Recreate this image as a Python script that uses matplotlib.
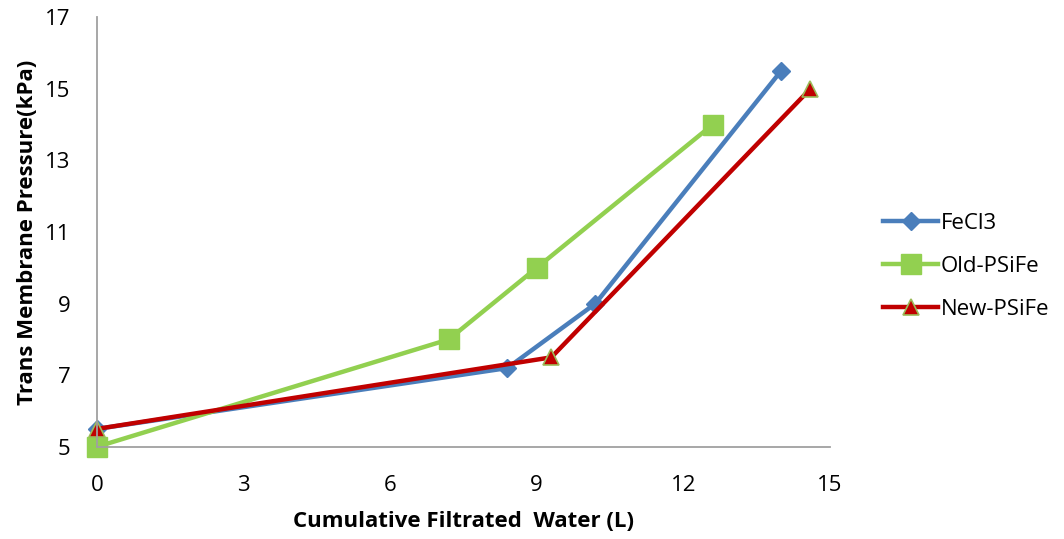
import matplotlib
matplotlib.use("Agg")
import matplotlib.pyplot as plt

plt.rcParams['font.family'] = ['Open Sans', 'DejaVu Sans']

# data
fecl3_x = [0, 8.4, 10.2, 14.0]
fecl3_y = [5.5, 7.2, 9.0, 15.5]
old_x = [0, 7.2, 9.0, 12.6]
old_y = [5.0, 8.0, 10.0, 14.0]
new_x = [0, 9.3, 14.6]
new_y = [5.5, 7.5, 15.0]
x_ticks = [0, 3, 6, 9, 12, 15]
y_ticks = [5, 7, 9, 11, 13, 15, 17]

fig = plt.figure(figsize=(10.64, 5.39), dpi=100)
ax = fig.add_axes([0.091, 0.171, 0.689, 0.797])

ax.plot(fecl3_x, fecl3_y, color="#4a7ebb", lw=3.2, marker="D", ms=9,
        mfc="#4a7ebb", mec="#4a7ebb", label="FeCl3", clip_on=False)
ax.plot(old_x, old_y, color="#92d050", lw=3.2, marker="s", ms=14,
        mfc="#92d050", mec="#92d050", label="Old-PSiFe", clip_on=False)
ax.plot(new_x, new_y, color="#c00000", lw=3.2, marker="^", ms=12,
        mfc="#c00000", mec="#9bbb59", mew=1.2, label="New-PSiFe", clip_on=False)

ax.set_xlim(0, 15)
ax.set_ylim(5, 17)
ax.set_xticks(x_ticks)
ax.set_yticks(y_ticks)
ax.tick_params(axis="x", length=0, labelsize=16, pad=20)
ax.tick_params(axis="y", length=0, labelsize=16, pad=19)
for s in ["top", "right"]:
    ax.spines[s].set_visible(False)
for s in ["left", "bottom"]:
    ax.spines[s].set_color("#a0a0a0")
    ax.spines[s].set_linewidth(1.3)

ax.set_xlabel("Cumulative Filtrated  Water (L)", fontsize=16, fontweight="bold", labelpad=11)
ax.set_ylabel("Trans Membrane Pressure(kPa)", fontsize=16, fontweight="bold", labelpad=5)

ax.legend(loc="center left", bbox_to_anchor=(1.045, 0.42), frameon=False,
          fontsize=16, labelspacing=1.0, handlelength=2.5, handletextpad=0.1)

fig.savefig("out.png", dpi=100)
